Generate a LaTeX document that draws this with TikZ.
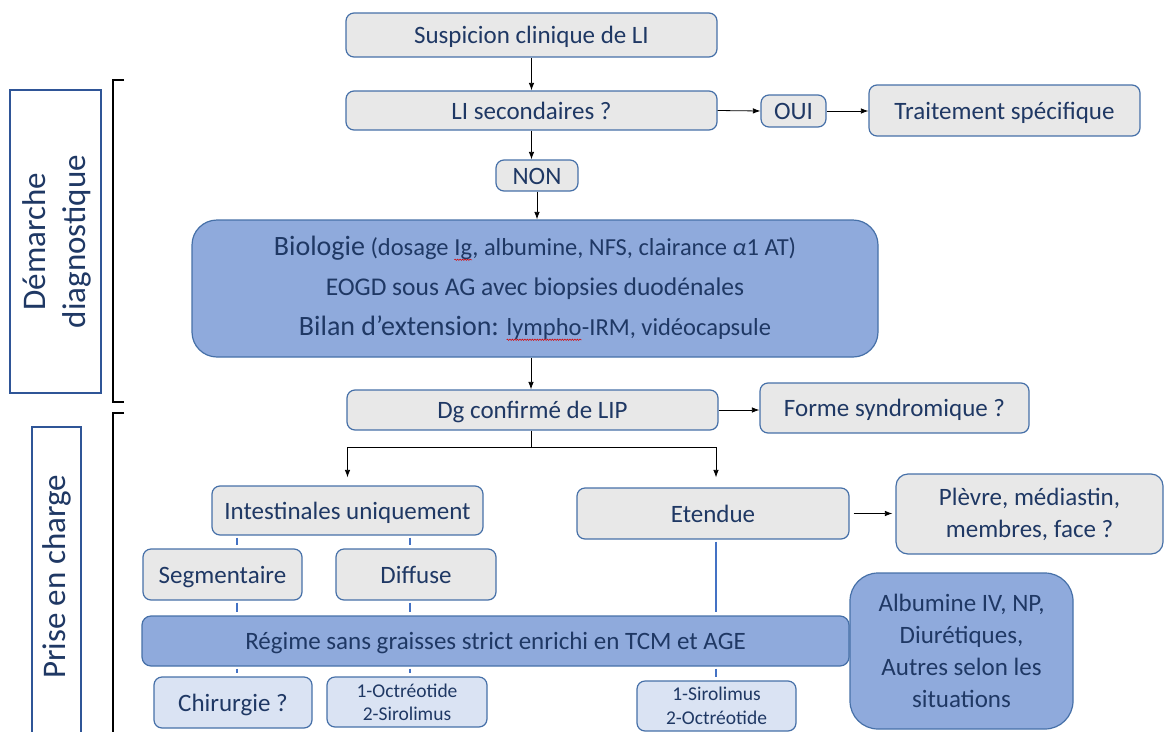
\documentclass[tikz,border=0pt]{standalone}
\usepackage{fontspec}
\setmainfont{Carlito}
\usetikzlibrary{arrows.meta,calc,decorations.pathmorphing}
\definecolor{txt}{HTML}{1F3864}
\definecolor{bord}{HTML}{4670A8}
\definecolor{grayf}{HTML}{E8E8E8}
\definecolor{midf}{HTML}{8FAADC}
\definecolor{lightf}{HTML}{DAE3F3}
\definecolor{bluelink}{HTML}{4472C4}
\definecolor{lblbord}{HTML}{2F5597}
\newcommand\spellwave[1]{\tikz[baseline=(w.base), sharp corners, x=1pt, y=1pt, line width=0.5pt]{\node[inner sep=0pt,outer sep=0pt,draw=none,fill=none,minimum width=0pt,minimum height=0pt] (w) {#1};
  \draw[red!85!black, line width=0.5pt, decorate, decoration={snake, amplitude=0.7pt, segment length=2.5pt}] ([yshift=-4pt]w.base west) -- ([yshift=-4pt]w.base east);}}
\begin{document}
\begin{tikzpicture}[x=1pt,y=-1pt,
  gbox/.style={draw=bord, line width=1.2pt, rounded corners=8pt, fill=grayf, text=txt,
    font=\fontsize{25}{30}\selectfont, inner sep=0pt, align=center},
  sline/.style={text height=22pt, text depth=5pt},
  mbox/.style={gbox, fill=midf},
  lbox/.style={gbox, fill=lightf},
  lbl/.style={draw=lblbord, line width=1.3pt, fill=white, text=txt, inner sep=0pt,
    font=\fontsize{32}{38}\selectfont, align=center},
  arr/.style={draw=black, line width=0.8pt, -{Latex[length=7.5pt,width=5.5pt]}},
  plain/.style={draw=black, line width=0.8pt},
  blink/.style={draw=bluelink, line width=2.6pt, shorten <=2pt, shorten >=3pt},
  brk/.style={draw=black, line width=2.8pt}
]
\useasboundingbox (0,0) rectangle (1164,731);
\clip (0,0) rectangle (1164,731);

% left labels
\node[lbl, minimum width=91, minimum height=303] (dembox) at (55.5,241.5) {};
\node[text=txt, rotate=90, font=\fontsize{33}{40}\selectfont, align=center] (demtxt) at (57,241.5) {Démarche\\diagnostique};
\node[lbl, minimum width=49, minimum height=330] (prbox) at (56.5,592) {};
\node[text=txt, rotate=90, font=\fontsize{33}{40}\selectfont] (prtxt) at (57,577) {Prise en charge};

% brackets
\coordinate (b1a) at (124,80);
\coordinate (b1b) at (124,402);
\coordinate (b2a) at (124,413);
\draw[brk] (b1a) -- ++(-11,0) |- (b1b);
\draw[brk] (b2a) -- ++(-11,0) -- ++(0,347);

% nodes
\node[gbox, sline, minimum width=371, minimum height=44] (susp) at (531.5,35) {Suspicion clinique de LI};
\node[gbox, sline, minimum width=371, minimum height=39] (lisec) at (531.5,110.5) {LI secondaires ?};
\node[gbox, sline, minimum width=65, minimum height=32] (oui) at (793.5,111) {OUI};
\node[gbox, sline, minimum width=271, minimum height=51] (trait) at (1004.5,110.5) {Traitement spécifique};
\node[gbox, sline, minimum width=82, minimum height=31] (non) at (537,175.5) {NON};
\node[mbox, rounded corners=25pt, minimum width=686, minimum height=137,
  font=\fontsize{24.5}{40}\selectfont] (bio) at (535,288.5)
  {{\fontsize{28}{40}\selectfont Biologie} (dosage \spellwave{Ig}, albumine, NFS, clairance \textit{α}1 AT)\\
   {\fontsize{25.5}{40}\selectfont EOGD sous AG avec biopsies duodénales}\\
   {\fontsize{28}{40}\selectfont Bilan d’extension:} \spellwave{lympho}-IRM, vidéocapsule};
\node[gbox, sline, minimum width=371, minimum height=40] (dg) at (532.5,410) {Dg confirmé de LIP};
\node[gbox, sline, minimum width=269, minimum height=50] (forme) at (894.5,408) {Forme syndromique ?};
\node[gbox, sline, minimum width=271, minimum height=49] (intest) at (347.5,510.5) {Intestinales uniquement};
\node[gbox, sline, minimum width=272, minimum height=51] (etend) at (713,513.5) {Etendue};
\node[gbox, rounded corners=12pt, minimum width=267, minimum height=80,
  font=\fontsize{25}{32}\selectfont] (plevre) at (1029.5,514) {Plèvre, médiastin,\\membres, face ?};
\node[gbox, sline, minimum width=159, minimum height=51] (segm) at (222.5,574.5) {Segmentaire};
\node[gbox, sline, minimum width=160, minimum height=51] (diff) at (416,574.5) {Diffuse};
\node[mbox, sline, rounded corners=9pt, minimum width=707, minimum height=50] (regime) at (495.5,641)
  {Régime sans graisses strict enrichi en TCM et AGE};
\node[mbox, rounded corners=28pt, minimum width=223, minimum height=156,
  font=\fontsize{25}{32}\selectfont] (albu) at (961.5,651)
  {Albumine IV, NP,\\Diurétiques,\\Autres selon les\\situations};
\node[lbox, sline, minimum width=158, minimum height=51] (chir) at (233,702.5) {Chirurgie ?};
\node[lbox, minimum width=160, minimum height=50, font=\fontsize{19.5}{23}\selectfont] (octr) at (407,702)
  {1-Octréotide\\2-Sirolimus};
\node[lbox, minimum width=159, minimum height=50, font=\fontsize{19.5}{24}\selectfont] (siro) at (716.5,706)
  {1-Sirolimus\\2-Octréotide};

% black connectors
\coordinate (bioout) at (bio.south -| 531,0);
\draw[arr] (susp.south) -- (lisec.north);
\draw[arr] (lisec.east) -- (oui.west);
\draw[arr] (oui.east) -- (trait.west |- oui.east);
\draw[arr] (lisec.south) -- (lisec.south |- non.north);
\draw[arr] (non.south) -- (non.south |- bio.north);
\draw[arr] (bioout) -- (bioout |- dg.north);
\draw[arr] (dg.east) -- (dg.east -| forme.west);
\coordinate (split) at (531,447);
\draw[plain] (dg.south -| split) -- (split);
\draw[arr, shorten >=8pt] (split) -| (intest.north);
\draw[arr, shorten >=10pt] (split) -| (etend.north -| 716,0);
\draw[arr, shorten <=4pt, shorten >=3pt] (etend.east) -- (etend.east -| plevre.west);

% blue connectors
\draw[blink] (intest.south -| 237,0) -- (segm.north -| 237,0);
\draw[blink] (intest.south -| 410,0) -- (diff.north -| 410,0);
\draw[blink] (segm.south -| 237,0) -- (regime.north -| 237,0);
\draw[blink] (diff.south -| 410,0) -- (regime.north -| 410,0);
\draw[blink] (regime.south -| 237,0) -- (chir.north -| 237,0);
\draw[blink] (regime.south -| 410,0) -- (octr.north -| 410,0);
\draw[blink] (etend.south -| 716,0) -- (regime.north -| 716,0);
\draw[blink] (regime.south -| 716,0) -- (siro.north -| 716,0);
\end{tikzpicture}
\end{document}
